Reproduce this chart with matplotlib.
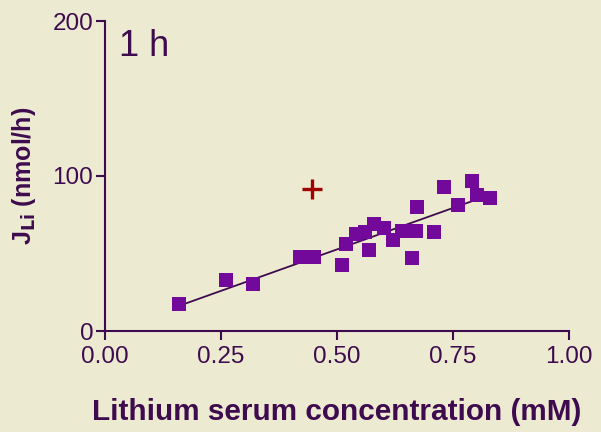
import numpy as np
import matplotlib
matplotlib.use("Agg")
import matplotlib.pyplot as plt

plt.rcParams['font.family'] = ['Liberation Sans', 'DejaVu Sans']

# Data
conc = [0.160, 0.261, 0.320, 0.420, 0.450, 0.510, 0.520, 0.541, 0.560, 0.570,
        0.580, 0.602, 0.621, 0.640, 0.662, 0.672, 0.671, 0.710, 0.731, 0.761,
        0.792, 0.802, 0.830]
jli = [17.4, 32.9, 30.3, 47.9, 47.9, 42.8, 55.9, 62.6, 64.1, 52.3,
       68.8, 66.3, 58.7, 64.7, 46.9, 80.2, 64.7, 64.1, 92.7, 81.1,
       96.6, 87.5, 86.0]
outlier_x = [0.446]
outlier_y = [91.4]
xticks = [0.00, 0.25, 0.50, 0.75, 1.00]
xticklabels = ["0.00", "0.25", "0.50", "0.75", "1.00"]
yticks = [0, 100, 200]

bg = '#EDEAD2'
axcol = '#3E0B4E'
mcol = '#72099A'
ccol = '#A00000'

fig = plt.figure(figsize=(6.01, 4.32), dpi=100, facecolor=bg)
ax = fig.add_axes([105/601, 1-331/432, 464/601, 310/432], facecolor=bg)

# regression line
x = np.array(conc); y = np.array(jli)
slope, intercept = np.polyfit(x, y, 1)
xl = np.array([x.min(), x.max()])
ax.plot(xl, slope*xl + intercept, color=axcol, lw=1.3, zorder=2)

ax.scatter(conc, jli, marker='s', s=92, color=mcol, linewidths=0, zorder=3)
ax.scatter(outlier_x, outlier_y, marker='+', s=220, color=ccol, linewidths=2.4, zorder=3)

ax.set_xlim(0, 1.0)
ax.set_ylim(0, 200)
ax.set_xticks(xticks)
ax.set_xticklabels(xticklabels)
ax.set_yticks(yticks)

for s in ['top', 'right']:
    ax.spines[s].set_visible(False)
for s in ['left', 'bottom']:
    ax.spines[s].set_color(axcol)
    ax.spines[s].set_linewidth(1.5)
ax.tick_params(axis='both', colors=axcol, width=1.5, length=6.5, labelsize=17.5,
               labelcolor=axcol, direction='out')
ax.tick_params(axis='x', pad=4)
ax.tick_params(axis='y', pad=2)

ax.set_xlabel('Lithium serum concentration (mM)', fontsize=21.4, fontweight='bold',
              color=axcol, labelpad=22)
ax.set_ylabel(r'J$_{\mathbf{Li}}$ (nmol/h)', fontsize=18, fontweight='bold',
              color=axcol)
ax.yaxis.set_label_coords(-0.145, 0.5)
ax.text(0.03, 0.975, '1 h', transform=ax.transAxes, fontsize=26, color=axcol,
        ha='left', va='top')

fig.savefig('out.png', dpi=100, facecolor=bg)
